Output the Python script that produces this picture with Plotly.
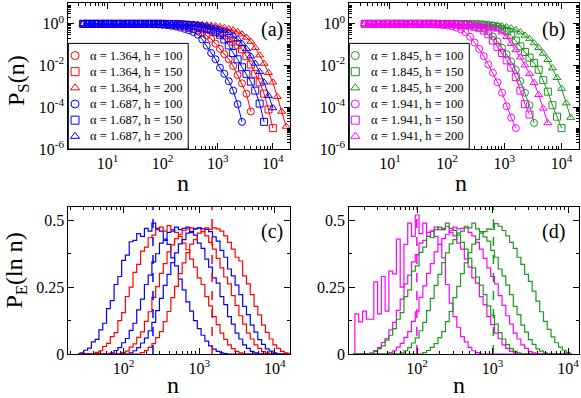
import plotly.graph_objects as go

# ---- survival curves, panels (a) and (b) ----
n_grid = [3.63, 4.37, 5.25, 6.31, 7.59, 9.12, 10.96, 13.18, 15.85, 19.05, 22.91, 27.54,
          33.11, 39.81, 47.86, 57.54, 69.18, 83.18, 100.0, 120.2, 144.5, 173.8, 208.9,
          251.2, 302.0, 363.1, 436.5, 524.8, 631.0, 758.6, 912.0, 1096, 1318, 1585, 1905,
          2291, 2754, 3311, 3981, 4786, 5754, 6918, 8318, 10000, 12023, 14454, 17378]

a_red_c = [1.0] * 15 + [0.98, 0.98, 0.955, 0.93, 0.91, 0.87, 0.83, 0.78, 0.71, 0.63, 0.55, 0.47,
                        0.38, 0.28, 0.19, 0.112, 0.063, 0.0355, 0.020, 9.5e-3, 3.55e-3, 1.41e-3,
                        4.5e-4, 6.3e-5]
a_red_s = [1.0] * 20 + [0.98, 0.955, 0.93, 0.90, 0.87, 0.83, 0.78, 0.71, 0.63, 0.55, 0.47, 0.37,
                        0.28, 0.21, 0.141, 0.10, 0.060, 0.0282, 0.0112, 4.0e-3, 1.58e-3, 4.5e-4,
                        7.9e-5, 1.0e-5]
a_red_t = [1.0] * 23 + [0.98, 0.98, 0.955, 0.93, 0.91, 0.87, 0.83, 0.78, 0.72, 0.65, 0.575, 0.50,
                        0.41, 0.32, 0.224, 0.141, 0.071, 0.0316, 0.0126, 4.5e-3, 1.58e-3, 3.2e-4,
                        6.3e-5, 1.2e-5]
a_blue_c = [1.0] * 14 + [0.98, 0.98, 0.96, 0.93, 0.91, 0.87, 0.81, 0.74, 0.66, 0.575, 0.49, 0.40,
                         0.30, 0.178, 0.089, 0.040, 0.020, 7.9e-3, 4.0e-3, 1.78e-3, 6.3e-4,
                         1.41e-4, 2.0e-5]
a_blue_s = [1.0] * 19 + [0.98, 0.98, 0.96, 0.93, 0.91, 0.87, 0.81, 0.74, 0.66, 0.575, 0.49, 0.40,
                         0.30, 0.178, 0.092, 0.040, 0.020, 8.3e-3, 4.0e-3, 1.70e-3, 6.3e-4,
                         1.5e-4, 2.0e-5]
a_blue_t = [1.0] * 21 + [0.98, 0.98, 0.955, 0.93, 0.91, 0.87, 0.83, 0.78, 0.71, 0.63, 0.55, 0.47,
                         0.38, 0.28, 0.19, 0.112, 0.063, 0.0282, 0.0126, 5.0e-3, 1.58e-3,
                         3.55e-4, 9.3e-5]

b_green_c = [1.0] * 17 + [0.99, 0.98, 0.97, 0.955, 0.93, 0.91, 0.87, 0.81, 0.72, 0.60, 0.42,
                          0.25, 0.141, 0.071, 0.0355, 0.0158, 6.3e-3, 1.78e-3, 5.0e-4, 1.26e-4,
                          1.78e-5]
b_green_s = [1.0] * 21 + [0.99, 0.98, 0.97, 0.955, 0.93, 0.89, 0.83, 0.78, 0.69, 0.575, 0.44,
                          0.28, 0.158, 0.083, 0.0447, 0.024, 0.0132, 6.3e-3, 2.0e-3, 5.6e-4,
                          1.26e-4, 3.55e-5, 1.0e-5]
b_green_t = [1.0] * 24 + [0.98, 0.98, 0.955, 0.93, 0.89, 0.85, 0.79, 0.71, 0.62, 0.51, 0.40,
                          0.28, 0.19, 0.12, 0.071, 0.038, 0.019, 7.6e-3, 2.6e-3, 7.9e-4,
                          1.58e-4, 3.2e-5]
b_mag_c = [1.0] * 13 + [0.98, 0.955, 0.93, 0.91, 0.87, 0.83, 0.76, 0.66, 0.54, 0.40, 0.24, 0.126,
                        0.063, 0.0282, 0.0112, 4.5e-3, 1.58e-3, 5.0e-4, 1.12e-4, 3.2e-5, 1.0e-5]
b_mag_s = [1.0] * 16 + [0.99, 0.98, 0.97, 0.955, 0.93, 0.91, 0.87, 0.81, 0.72, 0.62, 0.48, 0.316,
                        0.158, 0.079, 0.040, 0.0178, 7.9e-3, 2.8e-3, 6.3e-4, 1.41e-4, 4.5e-5]
b_mag_t = [1.0] * 19 + [0.99, 0.98, 0.97, 0.955, 0.93, 0.89, 0.85, 0.80, 0.74, 0.66, 0.55, 0.40,
                        0.24, 0.112, 0.056, 0.025, 0.0105, 4.0e-3, 1.51e-3, 4.0e-4, 8.9e-5,
                        1.78e-5]

labels_a = ["α = 1.364, h = 100", "α = 1.364, h = 150", "α = 1.364, h = 200",
            "α = 1.687, h = 100", "α = 1.687, h = 150", "α = 1.687, h = 200"]
labels_b = ["α = 1.845, h = 100", "α = 1.845, h = 150", "α = 1.845, h = 200",
            "α = 1.941, h = 100", "α = 1.941, h = 150", "α = 1.941, h = 200"]

# ---- histograms, panels (c) and (d) ----
c_n = [25.1, 28.2, 31.6, 35.5, 39.8, 44.7, 50.1, 56.2, 63.1, 70.8, 79.4, 89.1, 100, 112, 126,
       141, 158, 178, 200, 224, 251, 282, 316, 355, 398, 447, 501, 562, 631, 708, 794, 891,
       1000, 1122, 1259, 1413, 1585, 1778, 1995, 2239, 2512, 2818, 3162, 3548, 3981, 4467,
       5012, 5623, 6310, 7079, 7943, 8913, 10000, 11220, 12589, 14125, 15849]
c_blue_100 = [0, 0.004, 0.014, 0.022, 0.045, 0.055, 0.09, 0.115, 0.17, 0.20, 0.26, 0.29, 0.35,
              0.37, 0.42, 0.425, 0.45, 0.44, 0.47, 0.46, 0.49, 0.47, 0.46, 0.43, 0.41, 0.36,
              0.33, 0.28, 0.24, 0.195, 0.16, 0.125, 0.095, 0.07, 0.048, 0.03, 0.018, 0.01,
              0.004, 0.001, 0] + [0] * 16
c_red_100 = [0] * 5 + [0.006, 0.012, 0.028, 0.04, 0.065, 0.08, 0.125, 0.155, 0.215, 0.25, 0.305,
                       0.335, 0.385, 0.40, 0.435, 0.445, 0.465, 0.475, 0.46, 0.48, 0.465, 0.455,
                       0.44, 0.415, 0.39, 0.355, 0.325, 0.285, 0.26, 0.215, 0.18, 0.14, 0.11,
                       0.078, 0.055, 0.034, 0.02, 0.01, 0.004, 0] + [0] * 12
c_blue_150 = [0] * 9 + [0.004, 0.013, 0.024, 0.042, 0.058, 0.088, 0.115, 0.165, 0.205, 0.26,
                        0.295, 0.345, 0.375, 0.415, 0.425, 0.455, 0.46, 0.475, 0.465, 0.47,
                        0.475, 0.455, 0.445, 0.415, 0.395, 0.355, 0.325, 0.285, 0.265, 0.215,
                        0.185, 0.14, 0.112, 0.078, 0.056, 0.034, 0.021, 0.01, 0.004, 0] + [0] * 8
c_red_150 = [0] * 12 + [0.005, 0.011, 0.026, 0.038, 0.062, 0.083, 0.122, 0.158, 0.212, 0.252,
                        0.302, 0.338, 0.382, 0.408, 0.432, 0.448, 0.462, 0.468, 0.472, 0.468,
                        0.472, 0.458, 0.442, 0.418, 0.392, 0.358, 0.322, 0.288, 0.262, 0.218,
                        0.182, 0.143, 0.112, 0.078, 0.056, 0.034, 0.021, 0.009, 0.004, 0] + [0] * 5
c_blue_200 = [0] * 14 + [0.004, 0.012, 0.024, 0.041, 0.059, 0.087, 0.118, 0.162, 0.208, 0.257,
                         0.298, 0.342, 0.378, 0.412, 0.428, 0.452, 0.458, 0.468, 0.472, 0.468,
                         0.466, 0.458, 0.438, 0.422, 0.388, 0.362, 0.318, 0.292, 0.258, 0.222,
                         0.178, 0.147, 0.108, 0.082, 0.054, 0.036, 0.019, 0.011, 0.004, 0] + [0] * 3
c_red_200 = [0] * 17 + [0.005, 0.013, 0.025, 0.039, 0.061, 0.084, 0.121, 0.159, 0.211, 0.253,
                        0.301, 0.341, 0.379, 0.411, 0.428, 0.452, 0.458, 0.472, 0.466, 0.472,
                        0.468, 0.46, 0.442, 0.418, 0.392, 0.362, 0.348, 0.292, 0.262, 0.222,
                        0.178, 0.146, 0.108, 0.081, 0.056, 0.034, 0.021, 0.01, 0.004, 0]
c_dash_n = [245, 1480]

d_n = [14.1, 15.8, 17.8, 20.0, 22.4] + c_n[:-3]
d_mag_100 = [0, 0.15, 0.12, 0.16, 0.13, 0.13, 0.27, 0.15, 0.29, 0.16, 0.31, 0.30, 0.43, 0.25,
             0.41, 0.49, 0.44, 0.52, 0.45, 0.49, 0.44, 0.46, 0.44, 0.41, 0.36, 0.26, 0.19, 0.14,
             0.10, 0.065, 0.045, 0.025, 0.012, 0.005, 0] + [0] * 24
d_mag_150 = [0] * 5 + [0.004, 0.013, 0.024, 0.043, 0.058, 0.09, 0.118, 0.163, 0.205, 0.262,
                       0.295, 0.345, 0.372, 0.415, 0.425, 0.455, 0.46, 0.475, 0.465, 0.47, 0.478,
                       0.455, 0.442, 0.415, 0.392, 0.355, 0.325, 0.285, 0.265, 0.215, 0.185,
                       0.14, 0.11, 0.078, 0.057, 0.034, 0.021, 0.01, 0.004, 0] + [0] * 14
d_green_100 = [0] * 6 + [0.01, 0.02, 0.03, 0.052, 0.07, 0.095, 0.13, 0.155, 0.215, 0.24, 0.31,
                         0.33, 0.38, 0.40, 0.44, 0.435, 0.465, 0.475, 0.465, 0.49, 0.47, 0.462,
                         0.445, 0.418, 0.392, 0.358, 0.322, 0.288, 0.258, 0.222, 0.18, 0.145,
                         0.112, 0.08, 0.056, 0.035, 0.02, 0.01, 0.004, 0] + [0] * 13
d_mag_200 = [0] * 10 + [0.005, 0.012, 0.026, 0.04, 0.062, 0.084, 0.122, 0.158, 0.212, 0.255,
                        0.302, 0.338, 0.382, 0.41, 0.432, 0.448, 0.462, 0.475, 0.468, 0.47,
                        0.472, 0.455, 0.442, 0.418, 0.392, 0.358, 0.322, 0.29, 0.262, 0.218,
                        0.182, 0.143, 0.112, 0.078, 0.056, 0.034, 0.021, 0.009, 0.004, 0] + [0] * 9
d_green_150 = [0] * 13 + [0.004, 0.012, 0.024, 0.041, 0.06, 0.087, 0.118, 0.162, 0.208, 0.257,
                          0.298, 0.342, 0.378, 0.412, 0.428, 0.452, 0.46, 0.478, 0.472, 0.49,
                          0.468, 0.458, 0.438, 0.422, 0.388, 0.362, 0.318, 0.292, 0.258, 0.222,
                          0.178, 0.147, 0.108, 0.082, 0.054, 0.036, 0.019, 0.011, 0.004, 0] + [0] * 6
d_green_200 = [0] * 19 + [0.005, 0.013, 0.025, 0.039, 0.061, 0.084, 0.121, 0.159, 0.211, 0.253,
                          0.301, 0.341, 0.379, 0.411, 0.428, 0.452, 0.458, 0.468, 0.466, 0.488,
                          0.478, 0.462, 0.442, 0.418, 0.395, 0.362, 0.335, 0.298, 0.272, 0.235,
                          0.198, 0.158, 0.122, 0.092, 0.064, 0.042, 0.026, 0.014, 0.006, 0]
d_dash_n = [99, 1025]

RED, BLUE, GREEN, MAG = "#ff0000", "#0000ff", "#1f961f", "#ff00ff"
FONT = "Liberation Serif"
SYMS = ["circle-open", "square-open", "triangle-up-open"]

fig = go.Figure()


def surv(ys, color, sym, xa, ya):
    fig.add_trace(go.Scatter(x=n_grid[:len(ys)], y=ys, mode="lines+markers", xaxis=xa, yaxis=ya,
                             line=dict(color=color, width=1),
                             marker=dict(symbol=sym, size=7, color=color, line=dict(width=1)),
                             showlegend=False))


for ys, c, s in [(a_red_c, RED, 0), (a_red_s, RED, 1), (a_red_t, RED, 2),
                 (a_blue_c, BLUE, 0), (a_blue_s, BLUE, 1), (a_blue_t, BLUE, 2)]:
    surv(ys, c, SYMS[s], "x", "y")
for ys, c, s in [(b_green_c, GREEN, 0), (b_green_s, GREEN, 1), (b_green_t, GREEN, 2),
                 (b_mag_c, MAG, 0), (b_mag_s, MAG, 1), (b_mag_t, MAG, 2)]:
    surv(ys, c, SYMS[s], "x2", "y2")


def hist(xs, ys, color, xa, ya):
    fig.add_trace(go.Scatter(x=xs, y=ys, mode="lines", line_shape="hvh", xaxis=xa, yaxis=ya,
                             line=dict(color=color, width=1.2), showlegend=False))


for ys, c in [(c_blue_100, BLUE), (c_red_100, RED), (c_blue_150, BLUE),
              (c_red_150, RED), (c_blue_200, BLUE), (c_red_200, RED)]:
    hist(c_n, ys, c, "x3", "y3")
for ys, c in [(d_mag_100, MAG), (d_mag_150, MAG), (d_green_100, GREEN),
              (d_mag_200, MAG), (d_green_150, GREEN), (d_green_200, GREEN)]:
    hist(d_n, ys, c, "x4", "y4")

for xv, c in zip(c_dash_n, [BLUE, RED]):
    fig.add_trace(go.Scatter(x=[xv, xv], y=[0, 0.55], mode="lines", xaxis="x3", yaxis="y3",
                             line=dict(color=c, width=1.5, dash="dash"), showlegend=False))
for xv, c in zip(d_dash_n, [MAG, GREEN]):
    fig.add_trace(go.Scatter(x=[xv, xv], y=[0, 0.55], mode="lines", xaxis="x4", yaxis="y4",
                             line=dict(color=c, width=1.5, dash="dash"), showlegend=False))

# legend boxes drawn by hand on small overlay axes
rows = [0.885, 0.732, 0.579, 0.426, 0.273, 0.12]
leg_cols = [RED] * 3 + [BLUE] * 3
leg_cols_b = [GREEN] * 3 + [MAG] * 3
for i in range(6):
    fig.add_trace(go.Scatter(x=[0.056], y=[rows[i]], mode="markers", xaxis="x5", yaxis="y5",
                             marker=dict(symbol=SYMS[i % 3], size=8, color=leg_cols[i],
                                         line=dict(width=1)), showlegend=False))
    fig.add_trace(go.Scatter(x=[0.05], y=[rows[i]], mode="markers", xaxis="x6", yaxis="y6",
                             marker=dict(symbol=SYMS[i % 3], size=8, color=leg_cols_b[i],
                                         line=dict(width=1)), showlegend=False))

dom_ax = [0.1176, 0.4991]
dom_bx = [0.6012, 0.9971]
dom_top = [0.6256, 0.9925]
dom_bot = [0.1106, 0.4799]
leg_ax = [0.1176, 0.324]
leg_bx = [0.6012, 0.8077]
leg_y = [0.6256, 0.891]

minor_log = [m * 10 ** k for k in range(-7, 5) for m in range(2, 10)]
minor_dec = [10 ** k for k in (-5, -3, -1, 1)]
tick_font = dict(family=FONT, size=16, color="black")


def sup(k):
    return "10<sup>%d</sup>" % k


def base_axis(**kw):
    d = dict(showline=True, linecolor="black", linewidth=1, mirror="ticks", ticks="inside",
             ticklen=6, tickwidth=1, tickcolor="black", showgrid=False, zeroline=False,
             tickfont=tick_font, fixedrange=True, automargin=False)
    d.update(kw)
    return d


def log_x(dom, rng, anchor, decs):
    return base_axis(type="log", domain=dom, range=rng, anchor=anchor,
                     tickvals=[10 ** k for k in decs], ticktext=[sup(k) for k in decs],
                     minor=dict(ticks="inside", ticklen=3, tickcolor="black", tickvals=minor_log,
                                showgrid=False))


def log_y(dom, anchor):
    return base_axis(type="log", domain=dom, range=[-6, 1], anchor=anchor,
                     tickvals=[1, 1e-2, 1e-4, 1e-6], ticktext=[sup(0), sup(-2), sup(-4), sup(-6)],
                     minor=dict(ticks="inside", ticklen=3, tickcolor="black",
                                tickvals=minor_log + minor_dec, showgrid=False))


def lin_y(dom, anchor):
    return base_axis(domain=dom, range=[0, 0.55], anchor=anchor, tickvals=[0, 0.25, 0.5],
                     ticktext=["0", "0.25", "0.5"],
                     minor=dict(ticks="inside", ticklen=3, tickcolor="black",
                                tickvals=[0.125, 0.375], showgrid=False))


hidden = dict(range=[0, 1], visible=False, fixedrange=True)


def paper_text(txt, x, y, size, angle=0):
    return dict(x=x, y=y, xref="paper", yref="paper", text=txt, showarrow=False,
                xanchor="center", yanchor="middle", textangle=angle,
                font=dict(family=FONT, size=size, color="black"))


annots = []
for i in range(6):
    annots.append(dict(x=0.167, y=rows[i], xref="x5", yref="y5", text=labels_a[i],
                       showarrow=False, xanchor="left", yanchor="middle",
                       font=dict(family=FONT, size=12.5)))
    annots.append(dict(x=0.165, y=rows[i], xref="x6", yref="y6", text=labels_b[i],
                       showarrow=False, xanchor="left", yanchor="middle",
                       font=dict(family=FONT, size=12.5)))
for txt, x, y in [("(a)", 0.469, 0.925), ("(b)", 0.952, 0.925),
                  ("(c)", 0.4676, 0.418), ("(d)", 0.952, 0.418)]:
    annots.append(paper_text(txt, x, y, 20))
for x, y in [(0.315, 0.539), (0.7935, 0.539), (0.297, 0.033), (0.79, 0.033)]:
    annots.append(paper_text("n", x, y, 24))
annots.append(paper_text("P<sub>S</sub>(n)", 0.031, 0.7965, 24, -90))
annots.append(paper_text("P<sub>E</sub>(ln n)", 0.0284, 0.319, 24, -90))

fig.update_layout(
    width=581, height=398, margin=dict(l=0, r=0, t=0, b=0, autoexpand=False),
    paper_bgcolor="white", plot_bgcolor="white", showlegend=False,
    font=dict(family=FONT, color="black"),
    xaxis=log_x(dom_ax, [0.29, 4.31], "y", [1, 2, 3, 4]),
    yaxis=log_y(dom_top, "x"),
    xaxis2=log_x(dom_bx, [0.29, 4.31], "y2", [1, 2, 3, 4]),
    yaxis2=log_y(dom_top, "x2"),
    xaxis3=log_x(dom_ax, [1.27, 4.20], "y3", [2, 3, 4]),
    yaxis3=lin_y(dom_bot, "x3"),
    xaxis4=log_x(dom_bx, [1.10, 4.15], "y4", [2, 3, 4]),
    yaxis4=lin_y(dom_bot, "x4"),
    xaxis5=dict(hidden, domain=leg_ax, anchor="y5"),
    yaxis5=dict(hidden, domain=leg_y, anchor="x5"),
    xaxis6=dict(hidden, domain=leg_bx, anchor="y6"),
    yaxis6=dict(hidden, domain=leg_y, anchor="x6"),
    shapes=[dict(type="rect", xref="paper", yref="paper", x0=leg_ax[0], x1=leg_ax[1],
                 y0=leg_y[0], y1=leg_y[1], line=dict(color="black", width=1), layer="above"),
            dict(type="rect", xref="paper", yref="paper", x0=leg_bx[0], x1=leg_bx[1],
                 y0=leg_y[0], y1=leg_y[1], line=dict(color="black", width=1), layer="above")],
    annotations=annots,
)

# the page body has a default 8px margin; drop it so the figure sits at the top-left corner
fig.write_html("out.html", config={"displayModeBar": False},
               post_script="document.body.style.margin='0';")
